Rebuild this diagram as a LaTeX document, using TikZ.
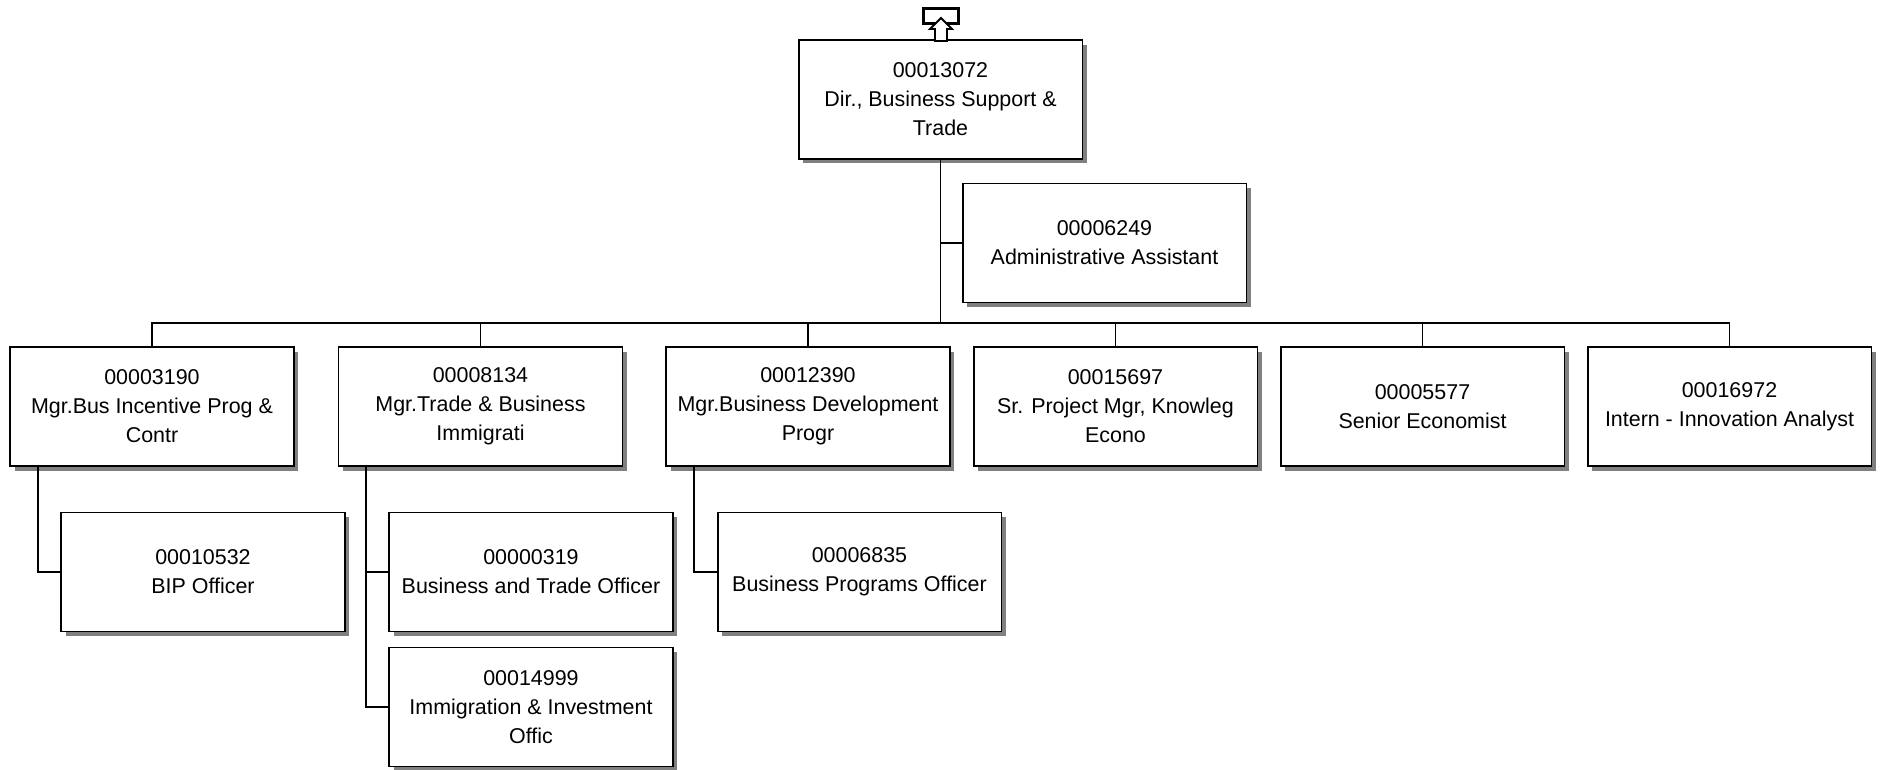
\documentclass[tikz,border=0pt]{standalone}
\usepackage{fontspec}
\setmainfont{Liberation Sans}
\usetikzlibrary{shadows}

\begin{document}
\begin{tikzpicture}[x=0.02cm,y=-0.02cm,
        posbox/.style={draw,line width=1.1pt,fill=white,minimum width=5.68cm,minimum height=2.38cm,
            inner sep=0pt,align=center,font=\fontsize{12.2pt}{16.5pt}\selectfont,
            drop shadow={shadow xshift=0.09cm,shadow yshift=-0.09cm,fill=black!50,opacity=1}},
        link/.style={line width=1.1pt}]
        \useasboundingbox (0,0) rectangle (1881,769);
        \node[posbox] (dir) at (940.5,99.5) {00013072\\Dir., Business Support \&\\Trade};
        \node[posbox] (asst) at (1104.5,243) {00006249\\Administrative Assistant};
        \node[posbox] (m1) at (152,406.5) {00003190\\Mgr.Bus Incentive Prog \&\\Contr};
        \node[posbox] (m2) at (480.5,406.5) {00008134\\Mgr.Trade \& Business\\Immigrati};
        \node[posbox] (m3) at (808,406.5) {00012390\\Mgr.Business Development\\Progr};
        \node[posbox] (m4) at (1115.5,406.5) {00015697\\Sr. Project Mgr, Knowleg\\Econo};
        \node[posbox] (m5) at (1422.5,406.5) {00005577\\Senior Economist};
        \node[posbox] (m6) at (1729.5,406.5) {00016972\\Intern - Innovation Analyst};
        \node[posbox] (b1) at (203,572) {00010532\\BIP Officer};
        \node[posbox] (b2) at (531,572) {00000319\\Business and Trade Officer};
        \node[posbox] (b3) at (531,707) {00014999\\Immigration \& Investment\\Offic};
        \node[posbox] (b4) at (859.5,572) {00006835\\Business Programs Officer};
        \coordinate (bus) at (dir.south |- 0,324);
        \draw[link] (dir.south) -- (bus);
        \draw[link] (asst.west) -- (asst.west -| dir.south);
        \draw[link] (m1.north) -- ++(0,-23) -| (m6.north);
        \foreach \n in {m2,m3,m4,m5}
            \draw[link] (\n.north) -- ++(0,-23);
        \draw[link] ([xshift=0.58cm]m1.south west) |- (b1.west);
        \draw[link] ([xshift=0.56cm]m2.south west) |- (b3.west);
        \draw[link] (b2.west) -- ++(-23,0);
        \draw[link] ([xshift=0.58cm]m3.south west) |- (b4.west);
        \draw[line width=1.7pt] (923,8) rectangle (958,23);
        \draw[line width=1.1pt,fill=white] (935,41) -- (935,29) -- (930,29) -- (941,18) -- (952,29) -- (947,29) -- (947,41) -- cycle;
    \end{tikzpicture}
\end{document}
